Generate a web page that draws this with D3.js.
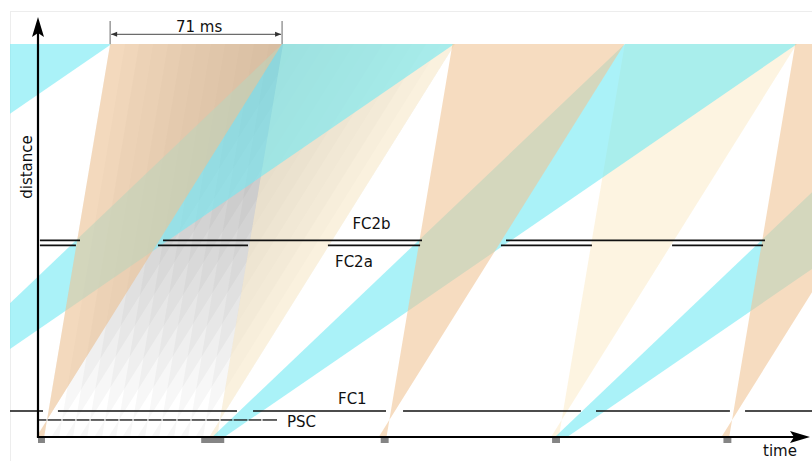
<!DOCTYPE html>
<html><head><meta charset="utf-8">
<script src="https://cdn.jsdelivr.net/npm/d3@7"></script>
<style>body{margin:0;background:#fff;} svg{display:block;font-family:"DejaVu Sans",sans-serif;}</style>
</head><body><svg id="c" width="812" height="461"></svg>
<script>
// ---------------- data (time in ms, distance in m) ----------------
const detectorDistance = 60;
const sourcePulseStart = [0, 68, 142.8, 214.2, 285.6];
const sourcePulseWidth = [2.9, 9.6, 3.3, 3.3, 3.3];

const chopperNames = ["PSC", "FC1", "FC2a", "FC2b"];
const chopperDistance = [2.6, 3.97, 29.27, 30.03];
// PSC openings (ms) inside its drawn extent
const pscExtent = [0, 99.6];
const pscGaps = [3.75, 10.0, 15.8, 21.7, 27.9, 33.75, 39.6, 45.8, 51.7, 57.9, 63.75, 70.0, 75.8, 81.25, 87.5, 93.3];
// closed intervals (ms)
const fc1Closed = [[-12, 2.1], [8.3, 82.9], [89.6, 145], [152.1, 226.2], [232.5, 288.3], [294.6, 330]];
const fc2aClosed = [[0.8, 15.8], [50, 87.5], [120.8, 159.2], [192.9, 230.8], [264.2, 302.1]];
const fc2bClosed = [[0.8, 17.5], [52.1, 160], [195, 302.9]];

// fast wavelength band: edge velocities (m/s), lines pass through PSC opening
const fastBandVelocity = [2182, 586];
const orangeCross = [3.75, 146.4, 289.2];   // transmitted pulses
const creamCross = [75.8, 218.2];           // blocked pulses
const scanCross = [3.75, 10.0, 15.8, 21.7, 27.9, 33.75, 39.6, 45.8, 51.7, 57.9, 63.75, 70.0, 75.8];
// slow wavelength band: edge velocities (m/s) and source-time offsets (ms)
const slowBandVelocity = [349, 251.5];
const slowBandOffset = [0, 5.1];
const cyanStart = [-213.0, -70.2, 72.6, 215.4];

const periodLabel = "71 ms";
const labelTime = {FC2b: 131, FC2a: 123.75, FC1: 125, PSC: 103.75};

// ---------------- drawing ----------------
const svg = d3.select("#c");
const x = d3.scaleLinear().domain([0, 320]).range([38, 806]);
const y = d3.scaleLinear().domain([0, detectorDistance]).range([437, 44]);
const D = detectorDistance;

svg.append("rect").attr("x", 10.5).attr("y", 11.5).attr("width", 820).attr("height", 470)
  .attr("fill", "none").attr("stroke", "#ededed");

svg.append("clipPath").attr("id", "clip").append("rect")
  .attr("x", 10).attr("y", 11).attr("width", 802).attr("height", 450);
const g = svg.append("g").attr("clip-path", "url(#clip)");

const line = d3.line().x(d => x(d[0])).y(d => y(d[1]));
const dPSC = chopperDistance[0];
function fastWedge(tc) {
  const t = (v, d) => tc + (d - dPSC) / v * 1000;
  const [vf, vs] = fastBandVelocity;
  return [[t(vf, 0), 0], [t(vf, D), D], [t(vs, D), D], [t(vs, 0), 0]];
}
function slowWedge(ts) {
  const [va, vb] = slowBandVelocity, [oa, ob] = slowBandOffset;
  return [[ts + oa, 0], [ts + oa + D / va * 1000, D], [ts + ob + D / vb * 1000, D], [ts + ob, 0]];
}

g.selectAll(".scan").data(scanCross).join("path").attr("class", "scan")
  .attr("d", d => line(fastWedge(d)) + "Z").attr("fill", "#7a7a7a").attr("fill-opacity", 0.06);
g.selectAll(".cream").data(creamCross).join("path").attr("class", "cream")
  .attr("d", d => line(fastWedge(d)) + "Z").attr("fill", "rgb(251,236,205)").attr("fill-opacity", 0.6);
g.selectAll(".cyan").data(cyanStart).join("path").attr("class", "cyan")
  .attr("d", d => line(slowWedge(d)) + "Z").attr("fill", "rgb(113,233,243)").attr("fill-opacity", 0.6);
g.selectAll(".orange").data(orangeCross).join("path").attr("class", "orange")
  .attr("d", d => line(fastWedge(d)) + "Z").attr("fill", "rgb(240,197,150)").attr("fill-opacity", 0.6);

// choppers
const pscClosed = [];
{ let s = pscExtent[0]; pscGaps.forEach(gp => { pscClosed.push([s, gp - 0.25]); s = gp + 0.25; }); pscClosed.push([s, pscExtent[1]]); }
const chopperClosed = [pscClosed, fc1Closed, fc2aClosed, fc2bClosed];
chopperClosed.forEach((segs, i) => {
  g.selectAll(".ch" + i).data(segs).join("line").attr("class", "ch" + i)
    .attr("x1", d => x(d[0])).attr("x2", d => x(d[1]))
    .attr("y1", y(chopperDistance[i])).attr("y2", y(chopperDistance[i]))
    .attr("stroke", "#111").attr("stroke-width", i >= 2 ? 1.8 : 1.3);
});

// source pulses
svg.selectAll(".pulse").data(sourcePulseStart).join("rect").attr("class", "pulse")
  .attr("x", d => x(d)).attr("y", y(0)).attr("height", 6)
  .attr("width", (d, i) => x(d + sourcePulseWidth[i]) - x(d)).attr("fill", "#858585");

// axes
const x0 = x(0), y0 = y(0);
svg.append("line").attr("x1", x0).attr("x2", x0).attr("y1", y0 + 1).attr("y2", 30)
  .attr("stroke", "#000").attr("stroke-width", 2.2);
svg.append("line").attr("x1", x0 - 1).attr("x2", 796).attr("y1", y0).attr("y2", y0)
  .attr("stroke", "#000").attr("stroke-width", 2.2);
svg.append("path").attr("d", `M${x0},17 L${x0 + 6},37 L${x0},33 L${x0 - 6},37 Z`).attr("fill", "#000");
svg.append("path").attr("d", `M810,${y0} L790,${y0 - 6} L794,${y0} L790,${y0 + 6} Z`).attr("fill", "#000");

svg.append("text").attr("transform", `translate(32,167) rotate(-90)`).attr("text-anchor", "middle")
  .attr("font-size", 15).attr("fill", "#111").text("distance");
svg.append("text").attr("x", 763).attr("y", 456).attr("font-size", 15).attr("fill", "#111").text("time");

// chopper labels
const labelOffset = {FC2b: -11, FC2a: 21.5, FC1: -7, PSC: 7.5};
chopperNames.forEach((n, i) => {
  svg.append("text").attr("x", x(labelTime[n])).attr("y", y(chopperDistance[i]) + labelOffset[n])
    .attr("font-size", 15).attr("fill", "#111").text(n);
});

// period annotation
const w0 = fastWedge(orangeCross[0]);
const a0 = x(w0[1][0]), a1 = x(w0[2][0]);
svg.selectAll(".tick").data([a0, a1]).join("line").attr("class", "tick")
  .attr("x1", d => d).attr("x2", d => d).attr("y1", 21).attr("y2", y(D))
  .attr("stroke", "#8a8a8a").attr("stroke-width", 1.3);
svg.append("line").attr("x1", a0 + 1).attr("x2", a1 - 1).attr("y1", 34.3).attr("y2", 34.3)
  .attr("stroke", "#333").attr("stroke-width", 0.9);
svg.append("path").attr("d", `M${a0 + 1},34.3 l6,-2.5 l0,5 Z M${a1 - 1},34.3 l-6,-2.5 l0,5 Z`).attr("fill", "#333");
svg.append("text").attr("x", (a0 + a1) / 2 + 3).attr("y", 31.5).attr("text-anchor", "middle")
  .attr("font-size", 15).attr("fill", "#111").text(periodLabel);
</script></body></html>
